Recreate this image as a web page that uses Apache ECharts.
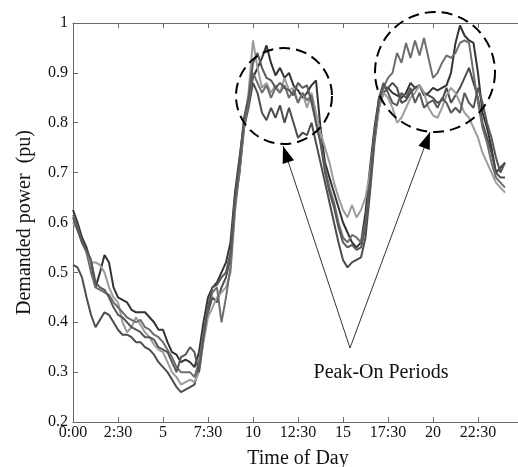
<!DOCTYPE html>
<html>
<head>
<meta charset="utf-8">
<script src="https://cdn.jsdelivr.net/npm/echarts@6/dist/echarts.min.js"></script>
<style>
html,body{margin:0;padding:0;background:#fff;}
#chart{width:518px;height:467px;}
</style>
</head>
<body>
<div id="chart"></div>
<script>
// time of day in hours, 15-minute steps
const hours = [];
for (let i = 0; i <= 96; i++) hours.push(i * 0.25);

const xTicks = [0, 2.5, 5, 7.5, 10, 12.5, 15, 17.5, 20, 22.5];
const xTickLabels = ['0:00', '2:30', '5', '7:30', '10', '12:30', '15', '17:30', '20', '22:30'];
const yTickLabels = ['0.2', '0.3', '0.4', '0.5', '0.6', '0.7', '0.8', '0.9', '1'];

const series1 = [
  0.625, 0.60, 0.57, 0.55,   0.52, 0.47, 0.50, 0.535,   0.52, 0.47, 0.45, 0.445,
  0.44, 0.425, 0.42, 0.42,   0.42, 0.41, 0.40, 0.385,   0.385, 0.36, 0.34, 0.335,
  0.32, 0.325, 0.32, 0.31,   0.34, 0.40, 0.45, 0.47,    0.48, 0.50, 0.52, 0.56,
  0.66, 0.73, 0.80, 0.85,    0.89, 0.91, 0.93, 0.955,   0.92, 0.895, 0.91, 0.89,
  0.90, 0.875, 0.865, 0.85,  0.86, 0.875, 0.885, 0.79,  0.72, 0.69, 0.66, 0.63,
  0.60, 0.58, 0.56, 0.55,    0.56, 0.62, 0.71, 0.79,    0.85, 0.87, 0.87, 0.86,
  0.855, 0.85, 0.86, 0.88,   0.87, 0.875, 0.855, 0.86,  0.87, 0.865, 0.87, 0.875,
  0.90, 0.96, 0.995, 0.975,  0.965, 0.96, 0.90, 0.82,   0.79, 0.75, 0.70, 0.71,
  0.72
];
const series2 = [
  0.515, 0.51, 0.49, 0.45,   0.415, 0.39, 0.405, 0.42,  0.415, 0.40, 0.385, 0.375,
  0.375, 0.37, 0.36, 0.36,   0.35, 0.345, 0.335, 0.32,  0.31, 0.30, 0.285, 0.27,
  0.26, 0.265, 0.27, 0.275,  0.31, 0.37, 0.42, 0.45,    0.44, 0.47, 0.49, 0.53,
  0.64, 0.70, 0.79, 0.83,    0.88, 0.86, 0.82, 0.805,   0.83, 0.81, 0.835, 0.80,
  0.83, 0.80, 0.77, 0.78,    0.775, 0.80, 0.76, 0.72,   0.68, 0.64, 0.60, 0.56,
  0.525, 0.51, 0.52, 0.525,  0.53, 0.57, 0.66, 0.76,    0.83, 0.86, 0.87, 0.88,
  0.87, 0.84, 0.845, 0.86,   0.87, 0.875, 0.86, 0.855,  0.85, 0.84, 0.845, 0.87,
  0.84, 0.855, 0.87, 0.89,   0.91, 0.88, 0.85, 0.80,    0.77, 0.74, 0.70, 0.69,
  0.69
];
const series3 = [
  0.60, 0.585, 0.56, 0.54,   0.52, 0.52, 0.515, 0.50,   0.47, 0.45, 0.44, 0.40,
  0.38, 0.39, 0.41, 0.395,   0.38, 0.37, 0.355, 0.345,  0.34, 0.32, 0.30, 0.29,
  0.275, 0.28, 0.285, 0.28,  0.30, 0.36, 0.41, 0.43,    0.45, 0.46, 0.47, 0.50,
  0.62, 0.71, 0.80, 0.86,    0.965, 0.91, 0.87, 0.88,   0.86, 0.875, 0.86, 0.89,
  0.865, 0.87, 0.84, 0.86,   0.83, 0.86, 0.82, 0.78,    0.75, 0.72, 0.68, 0.65,
  0.625, 0.61, 0.635, 0.61,  0.625, 0.65, 0.70, 0.77,   0.83, 0.86, 0.85, 0.83,
  0.80, 0.81, 0.83, 0.85,    0.86, 0.875, 0.86, 0.83,   0.815, 0.81, 0.83, 0.855,
  0.87, 0.86, 0.84, 0.82,    0.81, 0.79, 0.77, 0.74,    0.72, 0.70, 0.68, 0.67,
  0.66
];
const series4 = [
  0.615, 0.59, 0.56, 0.54,   0.50, 0.47, 0.465, 0.46,   0.455, 0.44, 0.43, 0.42,
  0.41, 0.405, 0.40, 0.405,  0.39, 0.385, 0.375, 0.37,  0.36, 0.345, 0.33, 0.31,
  0.30, 0.30, 0.30, 0.29,    0.32, 0.38, 0.43, 0.46,    0.47, 0.40, 0.45, 0.51,
  0.63, 0.70, 0.79, 0.84,    0.90, 0.88, 0.86, 0.875,   0.85, 0.87, 0.86, 0.875,
  0.85, 0.865, 0.84, 0.86,   0.845, 0.855, 0.80, 0.76,  0.71, 0.67, 0.64, 0.60,
  0.57, 0.56, 0.575, 0.57,   0.56, 0.60, 0.68, 0.78,    0.84, 0.87, 0.89, 0.90,
  0.94, 0.92, 0.96, 0.93,    0.965, 0.935, 0.97, 0.93,  0.89, 0.90, 0.92, 0.935,
  0.93, 0.94, 0.96, 0.965,   0.96, 0.90, 0.84, 0.79,    0.76, 0.72, 0.69, 0.68,
  0.67
];
const series5 = [
  0.61, 0.585, 0.56, 0.545,  0.525, 0.48, 0.47, 0.465,  0.45, 0.43, 0.415, 0.41,
  0.40, 0.39, 0.385, 0.38,   0.37, 0.37, 0.365, 0.35,   0.345, 0.34, 0.32, 0.30,
  0.33, 0.335, 0.35, 0.34,   0.30, 0.37, 0.43, 0.47,    0.475, 0.49, 0.50, 0.54,
  0.65, 0.72, 0.81, 0.85,    0.92, 0.94, 0.91, 0.89,    0.885, 0.87, 0.88, 0.87,
  0.865, 0.855, 0.88, 0.87,  0.875, 0.84, 0.80, 0.76,   0.70, 0.66, 0.63, 0.59,
  0.56, 0.55, 0.555, 0.545,  0.55, 0.59, 0.68, 0.77,    0.85, 0.88, 0.86, 0.84,
  0.835, 0.86, 0.85, 0.87,   0.84, 0.86, 0.83, 0.84,    0.845, 0.83, 0.85, 0.84,
  0.82, 0.83, 0.82, 0.86,    0.84, 0.83, 0.87, 0.84,    0.80, 0.77, 0.73, 0.70,
  0.72
];

const seriesValues = [series1, series2, series3, series4, series5];
const seriesColors = ['#333333', '#4c4c4c', '#9c9c9c', '#6e6e6e', '#585858'];

const FONT = 'Liberation Serif';

const chart = echarts.init(document.getElementById('chart'), null, {renderer: 'canvas'});

function xFmt(v) {
  const i = xTicks.indexOf(v);
  return i >= 0 ? xTickLabels[i] : '';
}
function yFmt(v) {
  const i = Math.round((v - 0.2) * 10);
  const ok = Math.abs((v - 0.2) * 10 - i) < 1e-6;
  return ok && yTickLabels[i] !== undefined ? yTickLabels[i] : '';
}

const axisLineStyle = {color: '#6a6a6a', width: 1};

const option = {
  animation: false,
  backgroundColor: '#fff',
  grid: {left: 73, top: 23, right: -5, bottom: 45, containLabel: false, outerBoundsMode: 'none'},
  xAxis: [{
    type: 'value', min: 0, max: 25, interval: 2.5,
    axisLine: {show: true, lineStyle: axisLineStyle},
    axisTick: {show: true, inside: true, length: 5, lineStyle: axisLineStyle},
    axisLabel: {formatter: xFmt, color: '#111', fontFamily: FONT, fontSize: 16, margin: 3, showMaxLabel: false},
    splitLine: {show: false},
    name: 'Time of Day', nameLocation: 'middle', nameGap: 27,
    nameTextStyle: {fontFamily: FONT, fontSize: 20, color: '#111'}
  }, {
    type: 'value', min: 0, max: 25, interval: 2.5, position: 'top',
    axisLine: {show: true, lineStyle: axisLineStyle},
    axisTick: {show: true, inside: true, length: 5, lineStyle: axisLineStyle},
    axisLabel: {show: false},
    splitLine: {show: false}
  }],
  yAxis: {
    type: 'value', min: 0.2, max: 1.0, interval: 0.1,
    axisLine: {show: true, lineStyle: axisLineStyle},
    axisTick: {show: true, inside: true, length: 5, lineStyle: axisLineStyle},
    axisLabel: {formatter: yFmt, color: '#111', fontFamily: FONT, fontSize: 16, margin: 5},
    splitLine: {show: false},
    name: 'Demanded power  (pu)', nameLocation: 'middle', nameGap: 38,
    nameTextStyle: {fontFamily: FONT, fontSize: 20, color: '#111'}
  },
  series: seriesValues.map((vals, k) => ({
    type: 'line',
    data: vals.map((v, i) => [hours[i], v]),
    showSymbol: false,
    symbol: 'none',
    lineStyle: {color: seriesColors[k], width: 2},
    z: 2 + k
  }))
};
chart.setOption(option);

// annotations (pixel positions)
function arrowHead(apex, tip, len, half) {
  const dx = tip[0] - apex[0], dy = tip[1] - apex[1];
  const d = Math.sqrt(dx * dx + dy * dy);
  const ux = dx / d, uy = dy / d;
  const bx = tip[0] - ux * len, by = tip[1] - uy * len;
  const px = -uy, py = ux;
  return [[tip[0], tip[1]], [bx + px * half, by + py * half], [bx - px * half, by - py * half]];
}
const apex = [350, 348];
const tip1 = [283, 146];
const tip2 = [430, 132];

chart.setOption({
  graphic: [
    {type: 'circle', shape: {cx: 284, cy: 96, r: 48}, z: 50,
     style: {fill: 'none', stroke: '#000', lineWidth: 2, lineDash: [11, 6]}},
    {type: 'circle', shape: {cx: 435, cy: 72, r: 60}, z: 50,
     style: {fill: 'none', stroke: '#000', lineWidth: 2, lineDash: [11, 6]}},
    {type: 'polyline', shape: {points: [tip1, apex, tip2]}, z: 50,
     style: {fill: 'none', stroke: '#000', lineWidth: 0.8}},
    {type: 'polygon', shape: {points: arrowHead(apex, tip1, 17, 6)}, z: 51,
     style: {fill: '#000'}},
    {type: 'polygon', shape: {points: arrowHead(apex, tip2, 17, 6)}, z: 51,
     style: {fill: '#000'}},
    {type: 'text', x: 381, y: 373, z: 52,
     style: {text: 'Peak-On Periods', font: '20px "Liberation Serif"', fill: '#111',
             textAlign: 'center', textVerticalAlign: 'middle'}}
  ]
});
</script>
</body>
</html>
